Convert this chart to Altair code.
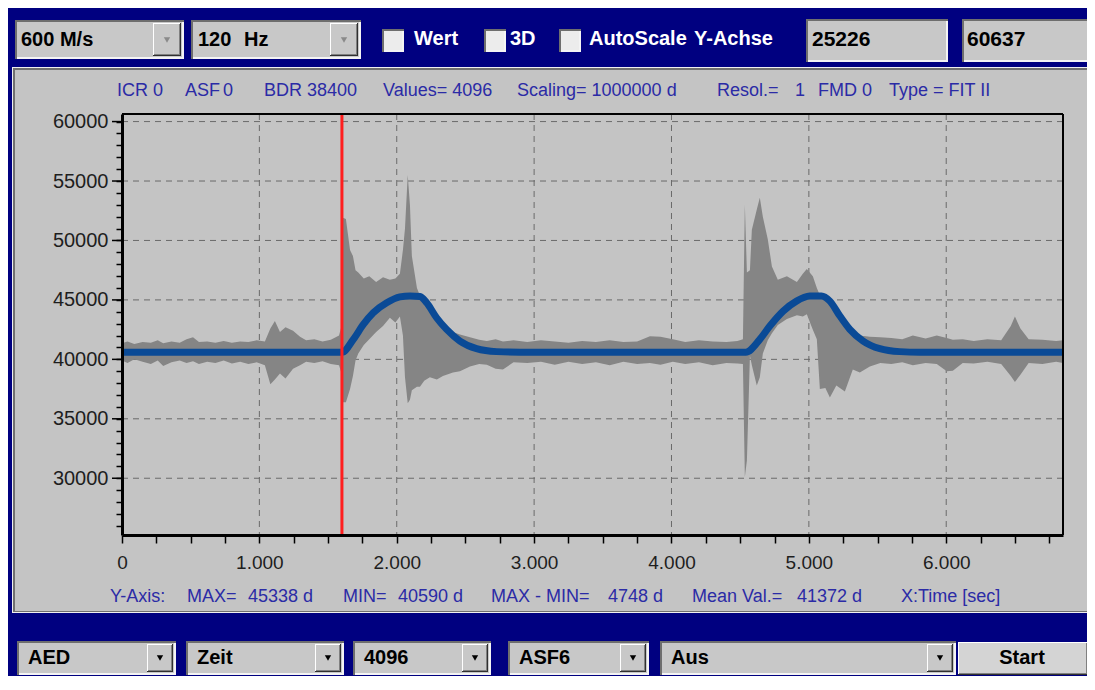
import altair as alt
import pandas as pd

# ---------------- data ----------------
# noisy raw signal: envelope (lower / upper) at sampled times (ms)
env_ms = [0, 40, 90, 150, 210, 260, 300, 360, 420, 470, 517, 560, 620, 680, 740, 800, 860, 920, 980, 1040,
          1080, 1113, 1150, 1190, 1245, 1296, 1340, 1400, 1460, 1520, 1580, 1598, 1601, 1608, 1630, 1660,
          1681, 1700, 1720, 1760, 1800, 1850, 1900, 1950, 1990, 2023, 2045, 2060, 2080, 2096, 2110, 2147,
          2169, 2200, 2241, 2292, 2336, 2409, 2460, 2533, 2600, 2656, 2720, 2773, 2850, 2950, 3050, 3150,
          3250, 3350, 3450, 3550, 3650, 3750, 3843, 3920, 4010, 4100, 4200, 4300, 4400, 4480, 4520, 4534,
          4549, 4571, 4585, 4621, 4643, 4665, 4701, 4731, 4774, 4840, 4913, 4956, 4985, 5029, 5058, 5080,
          5120, 5153, 5200, 5262, 5320, 5371, 5444, 5520, 5600, 5680, 5757, 5850, 5931, 6004, 6048, 6120,
          6200, 6300, 6400, 6470, 6500, 6540, 6600, 6700, 6800, 6850]
env_lo = [39900, 39700, 40000, 39800, 39600, 39900, 39450, 39750, 39900, 39700, 39850, 39600, 39800, 39700,
          39900, 39650, 39800, 39600, 39750, 39500,
          37900, 38300, 38800, 38400, 39200, 39500, 39800, 39700, 39850, 39600, 39500, 38800, 32700, 36400,
          36400, 37500,
          38600, 39900, 40500, 41200, 41700, 42300, 42800, 43500, 43100, 43600, 42000, 38500, 36300, 36600,
          37400, 37700,
          37700, 38200, 38500, 38300, 38600, 38900, 39000, 39400, 39600, 39550, 39200, 39150, 39750, 39700,
          39800, 39550,
          39800, 39600, 39750, 39500, 39800, 39600, 39700, 39550, 39800, 39600, 39750, 39500, 39700, 39650,
          39600, 30100,
          31500, 40300, 39500, 37800, 38500, 40500, 41600, 42200, 42900, 43400, 43700, 43600, 43800, 42500,
          41700, 37500,
          37600, 36800, 37800, 37300, 39150, 38900, 39400, 39700, 39600, 39750, 39500, 39700, 39600, 39000,
          39050, 39700,
          39650, 39800, 39600, 38600, 38100, 38700, 39700, 39600, 39800, 39700]
env_hi = [41350, 41500, 41300, 41450, 41400, 41600, 41350, 41500, 41400, 41700, 41850, 41450, 41500, 41400,
          41550, 41400, 41500, 41450, 41600, 41500,
          42600, 43220, 42300, 42700, 42400, 41900, 41600, 41700, 41500, 41650, 42000, 42800, 47000, 51900,
          51800, 49200,
          48700, 47500, 47300, 46800, 47000, 46500, 46900, 46700, 46800, 47200, 49200, 51000, 55500, 53000,
          48700, 46000,
          45350, 44800, 44200, 43400, 42800, 42300, 42100, 41850, 41650, 41550, 41700, 41500, 41600, 41450,
          41600, 41500,
          41400, 41550, 41450, 41600, 41450, 41500, 41950, 41900, 41700, 41450, 41600, 41500, 41450, 41550,
          41700, 53000,
          47300, 47500, 50900, 52600, 53600, 52000, 50100, 47800, 46700, 47000, 46500, 47200, 47600, 47000,
          46000, 45400,
          45300, 44900, 44000, 43100, 42300, 42000, 41900, 41850, 41800, 41700, 42000, 41750, 42000, 41800,
          41650, 41700,
          41550, 41700, 41600, 42800, 43600, 42600, 41700, 41650, 41550, 41600]

# fitted curve (blue)
fit_ms = [0, 1601, 1684, 1757, 1829, 1927, 2023, 2096, 2169, 2218, 2290, 2363, 2460, 2581, 2727, 2900,
          4540, 4643, 4716, 4813, 4910, 5007, 5092, 5153, 5226, 5298, 5395, 5517, 5662, 5808, 6850]
fit_val = [40600, 40600, 41680, 42940, 43920, 44760, 45250, 45338, 45280, 44760, 43500, 42520, 41540, 40900,
           40650, 40600, 40600, 41680, 42800, 44060, 44900, 45320, 45338, 44900, 43640, 42520, 41540, 40900,
           40650, 40600, 40600]

cursor_ms = [1601]
x_grid = [1000, 2000, 3000, 4000, 5000, 6000]
y_grid = [30000, 35000, 40000, 45000, 50000, 55000, 60000]
x_ticks = list(range(0, 6851, 250))
y_ticks = list(range(26000, 60001, 1000))
x_domain = [0, 6850]
y_domain = [25226, 60637]

info_top = ["ICR 0", "ASF", "0", "BDR 38400", "Values= 4096", "Scaling= 1000000 d", "Resol.=", "1",
            "FMD 0", "Type = FIT II"]
info_bottom = ["Y-Axis:", "MAX=", "45338 d", "MIN=", "40590 d", "MAX - MIN=", "4748 d", "Mean Val.=",
               "41372 d", "X:Time [sec]"]
top_dropdowns = ["600 M/s", "120", "Hz"]
checks = ["Wert", "3D", "AutoScale", "Y-Achse"]
boxes = ["25226", "60637"]
bottom_dropdowns = ["AED", "Zeit", "4096", "ASF6", "Aus"]
button = "Start"

# ---------------- layout / style ----------------
W, H = 941, 421
OX, OY = 122, 114          # page position of plot area origin
CANVAS_W, CANVAS_H = 1079, 668
NAVY = "#000080"
PANEL = "#c4c4c4"
FONT = "Liberation Sans"
INFO = "#2b2ba6"

DUMMY = alt.Data(values=[{"k": 1}])


def rect(x0, y0, x1, y1, fill):
    return alt.Chart(DUMMY).mark_rect(color=fill).encode(
        x=alt.value(x0 - OX), x2=alt.value(x1 - OX),
        y=alt.value(y0 - OY), y2=alt.value(y1 - OY))


def text(s, x, y, size, color, bold=False, align="left"):
    return alt.Chart(DUMMY).mark_text(
        text=s, align=align, baseline="middle", font=FONT, fontSize=size,
        fontWeight="bold" if bold else "normal", color=color).encode(
        x=alt.value(x - OX), y=alt.value(y - OY))


def tri(x, y, color):
    return alt.Chart(DUMMY).mark_point(shape="triangle-down", filled=True, size=40,
                                       color=color, opacity=1).encode(
        x=alt.value(x - OX), y=alt.value(y - OY))


def sunken(x0, y0, x1, y1, fill):
    return [rect(x0, y0, x1, y1, "#6e6e6e"), rect(x0 + 2, y0 + 2, x1, y1, "#f4f4f4"),
            rect(x0 + 2, y0 + 2, x1 - 2, y1 - 2, fill)]


def raised(x0, y0, x1, y1, fill):
    return [rect(x0, y0, x1, y1, "#303030"), rect(x0, y0, x1 - 1, y1 - 1, "#ffffff"),
            rect(x0 + 1, y0 + 1, x1 - 1, y1 - 1, "#808080"), rect(x0 + 1, y0 + 1, x1 - 2, y1 - 2, fill)]


layers = []
# panel
layers += [rect(12, 67, 1100, 613, "#f0f0f0"), rect(13, 68, 1100, 612, "#707070"),
           rect(15, 70, 1100, 611, PANEL)]

xscale = alt.Scale(domain=x_domain, nice=False, zero=False)
yscale = alt.Scale(domain=y_domain, nice=False, zero=False)

x_axis = alt.Axis(values=x_ticks, title=None, grid=False, tickSize=8, tickWidth=1.5, tickColor="black",
                  domainColor="black", domainWidth=3, labelFont=FONT, labelFontSize=19, labelColor="#1e1e1e",
                  labelPadding=10, labelOverlap=False, labelFlush=False, zindex=1,
                  labelExpr="datum.value % 1000 == 0 ? (datum.value == 0 ? '0' : replace(format(datum.value, ','), ',', '.')) : ''")
y_axis = alt.Axis(values=y_ticks, title=None, grid=False, tickSize=6, tickWidth=1.5, tickColor="black",
                  domainColor="black", domainWidth=3, labelFont=FONT, labelFontSize=20, labelColor="#1e1e1e",
                  labelPadding=8, labelOverlap=False, zindex=1,
                  labelExpr="datum.value % 5000 == 0 ? format(datum.value, 'd') : ''")


def X(field):
    return alt.X(field, scale=xscale, axis=x_axis)


def Y(field):
    return alt.Y(field, scale=yscale, axis=y_axis)


# grid (dashed)
gx = alt.Chart(pd.DataFrame({"g": x_grid})).mark_rule(color="#6a6a6a", strokeDash=[6, 5], strokeWidth=1).encode(
    x=X("g:Q"))
gy = alt.Chart(pd.DataFrame({"g": y_grid})).mark_rule(color="#6a6a6a", strokeDash=[6, 5], strokeWidth=1).encode(
    y=Y("g:Q"))
layers += [gx, gy]

env_df = pd.DataFrame({"ms": env_ms, "lo": env_lo, "hi": env_hi})
area = alt.Chart(env_df).mark_area(color="#858585", opacity=1).encode(
    x=X("ms:Q"), y=Y("lo:Q"), y2="hi:Q")
fit_df = pd.DataFrame({"ms": fit_ms, "val": fit_val})
fit = alt.Chart(fit_df).mark_line(color="#0a4a96", strokeWidth=7, interpolate="monotone").encode(
    x=X("ms:Q"), y=Y("val:Q"))
cursor = alt.Chart(pd.DataFrame({"c": cursor_ms})).mark_rule(color="#ff1e1e", strokeWidth=3).encode(
    x=X("c:Q"))
layers += [area, fit, cursor]

# frame top/right
layers.append(alt.Chart(DUMMY).mark_rule(color="black", strokeWidth=2).encode(
    x=alt.value(0), x2=alt.value(W), y=alt.value(0)))
layers.append(alt.Chart(DUMMY).mark_rule(color="black", strokeWidth=2).encode(
    x=alt.value(W), y=alt.value(0), y2=alt.value(H)))
# long major y ticks
layers.append(alt.Chart(pd.DataFrame({"g": y_grid})).mark_rule(color="black", strokeWidth=1.5).encode(
    y=Y("g:Q"), x=alt.value(-10), x2=alt.value(0)))

# info texts
top_x = [117, 185, 223, 264, 383, 517, 717, 795, 818, 889]
for s, x in zip(info_top, top_x):
    layers.append(text(s, x, 91, 18, INFO))
bot_x = [110, 187, 248, 343, 398, 491, 608, 692, 797, 901]
for s, x in zip(info_bottom, bot_x):
    layers.append(text(s, x, 597, 18, INFO))

# top bar widgets
layers += sunken(15, 20, 184, 59, "#c8c8c8") + raised(153, 23, 181, 56, "#c8c8c8")
layers += [tri(167, 40, "#8a8a8a"), text(top_dropdowns[0], 21, 40, 20, "black", True)]
layers += sunken(191, 20, 361, 59, "#c8c8c8") + raised(330, 23, 358, 56, "#c8c8c8")
layers += [tri(344, 40, "#8a8a8a"), text(top_dropdowns[1], 198, 40, 20, "black", True),
           text(top_dropdowns[2], 244, 40, 20, "black", True)]
for bx, (lab, lx) in zip([382, 484, 559], [(checks[0], 414), (checks[1], 510), (checks[2], 589)]):
    layers += sunken(bx, 29, bx + 22, 52, "#ececec")
    layers.append(text(lab, lx, 39, 20, "white", True))
layers.append(text(checks[3], 694, 39, 20, "white", True))
layers += sunken(806, 19, 948, 62, "#c8c8c8") + [text(boxes[0], 812, 40, 21, "black", True)]
layers += sunken(962, 19, 1100, 62, "#c8c8c8") + [text(boxes[1], 967, 40, 21, "black", True)]

# bottom bar widgets
dd = [(17, 176), (186, 344), (353, 491), (508, 649), (660, 956)]
for (x0, x1), lab in zip(dd, bottom_dropdowns):
    layers += sunken(x0, 641, x1, 675, "#c8c8c8") + raised(x1 - 29, 644, x1 - 3, 672, "#c8c8c8")
    layers += [tri(x1 - 16, 658, "black"), text(lab, x0 + 11, 658, 20, "black", True)]
layers += raised(958, 642, 1088, 675, "#d4d4d4") + [text(button, 1022, 658, 20, "black", True, "center")]

chart = alt.layer(*layers).properties(
    width=W, height=H,
    autosize=alt.AutoSizeParams(type="none"),
    padding={"left": OX - 8, "top": OY - 8, "right": CANVAS_W - (OX - 8) - W,
             "bottom": CANVAS_H - (OY - 8) - H},
).configure(background=NAVY).configure_view(fill=PANEL, stroke=None)

chart.save("out.html", embed_options={"renderer": "svg", "actions": False})
